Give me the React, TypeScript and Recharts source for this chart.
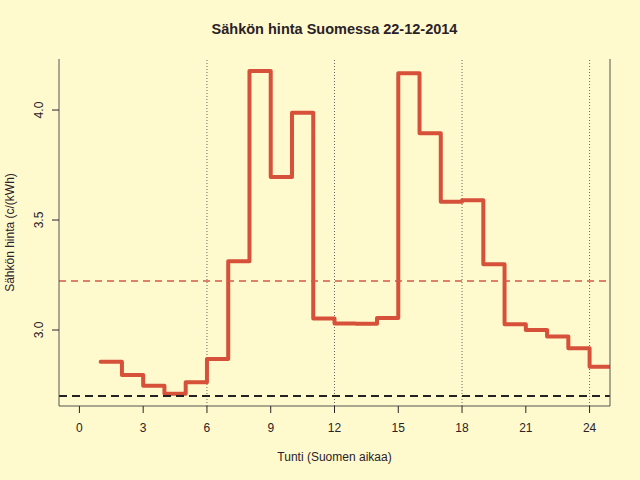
import { LineChart, Line, XAxis, YAxis, ReferenceLine, Label } from "recharts";

// tuntihinnat c/kWh, tunnit 1..24 (askel alkaa tunnin kohdalta)
const hourStarts = [1, 2, 3, 4, 5, 6, 7, 8, 9, 10, 11, 12, 13, 14, 15, 16, 17, 18, 19, 20, 21, 22, 23, 24];
const prices = [
  2.856, 2.795, 2.747, 2.71, 2.762, 2.868, 3.312, 4.177, 3.695, 3.988, 3.052, 3.029,
  3.028, 3.054, 4.167, 3.894, 3.583, 3.59, 3.299, 3.026, 3.0, 2.97, 2.917, 2.833,
];
const meanPrice = 3.223;
const lowLine = 2.7;

const xTicks = [0, 3, 6, 9, 12, 15, 18, 21, 24];
const yTicks = [3.0, 3.5, 4.0];
const gridHours = [6, 12, 18, 24];

const xDomain: [number, number] = [-0.96, 24.96];
const yDomain: [number, number] = [2.6545, 4.232];

const BG = "#FFFACD";
const INK = "#2a2228";
const FONT = "'Liberation Sans', Arial, Helvetica, sans-serif";

const data = hourStarts.map((h, i) => ({ hour: h, price: prices[i] }));
// viimeinen askel jatkuu seuraavaan tuntiin
data.push({ hour: hourStarts[hourStarts.length - 1] + 1, price: prices[prices.length - 1] });

function YTick(props: any) {
  const { x, y, payload } = props;
  return (
    <text
      x={x}
      y={y}
      transform={`rotate(-90, ${x}, ${y})`}
      textAnchor="middle"
      fontSize={12}
      fill={INK}
      fontFamily={FONT}
    >
      {payload.value.toFixed(1)}
    </text>
  );
}

export default function App() {
  return (
    <div style={{ position: "absolute", left: 0, top: 0, width: 640, height: 480, background: BG }}>
      <div
        style={{
          position: "absolute",
          left: 59,
          width: 551,
          top: 21,
          textAlign: "center",
          fontFamily: FONT,
          fontWeight: "bold",
          fontSize: 14.5,
          color: INK,
          lineHeight: "16px",
        }}
      >
        Sähkön hinta Suomessa 22-12-2014
      </div>
      <LineChart width={640} height={480} data={data} margin={{ top: 59, right: 30, left: 0, bottom: 0 }}>
        <XAxis
          dataKey="hour"
          type="number"
          domain={xDomain}
          allowDataOverflow
          ticks={xTicks}
          interval={0}
          height={74}
          tickSize={7}
          tickMargin={10}
          tick={{ fontSize: 12, fill: INK, fontFamily: FONT }}
          tickLine={{ stroke: INK }}
          axisLine={{ stroke: "#555" }}
        >
          <Label
            content={() => (
              <text x={334.5} y={461} textAnchor="middle" fontSize={12} fill={INK} fontFamily={FONT}>
                Tunti (Suomen aikaa)
              </text>
            )}
          />
        </XAxis>
        <XAxis
          xAxisId="top"
          orientation="top"
          dataKey="hour"
          type="number"
          domain={xDomain}
          allowDataOverflow
          height={0}
          tick={false}
          tickLine={false}
          axisLine={{ stroke: "#555" }}
        />
        <YAxis
          type="number"
          domain={yDomain}
          allowDataOverflow
          ticks={yTicks}
          interval={0}
          width={59}
          tickSize={7}
          tickMargin={9}
          tick={<YTick />}
          tickLine={{ stroke: INK }}
          axisLine={{ stroke: "#555" }}
        >
          <Label
            content={() => (
              <text
                x={14}
                y={232.5}
                transform="rotate(-90, 14, 232.5)"
                textAnchor="middle"
                fontSize={12}
                fill={INK}
                fontFamily={FONT}
              >
                Sähkön hinta (c/(kWh)
              </text>
            )}
          />
        </YAxis>
        {gridHours.map((h) => (
          <ReferenceLine key={h} x={h} stroke="#666" strokeWidth={1} strokeDasharray="1 2" />
        ))}
        <Line
          type="stepAfter"
          dataKey="price"
          stroke="#D6503A"
          strokeWidth={4}
          strokeLinejoin="round"
          strokeLinecap="round"
          dot={false}
          activeDot={false}
          isAnimationActive={false}
        />
        <ReferenceLine y={meanPrice} stroke="#D3584A" strokeWidth={1.5} strokeDasharray="7 5" />
        <ReferenceLine y={lowLine} stroke="#222" strokeWidth={2} strokeDasharray="8 5" />
        {/* kehyksen oikea reuna */}
        <ReferenceLine x={xDomain[1]} stroke="#555" strokeWidth={1} />
      </LineChart>
    </div>
  );
}
